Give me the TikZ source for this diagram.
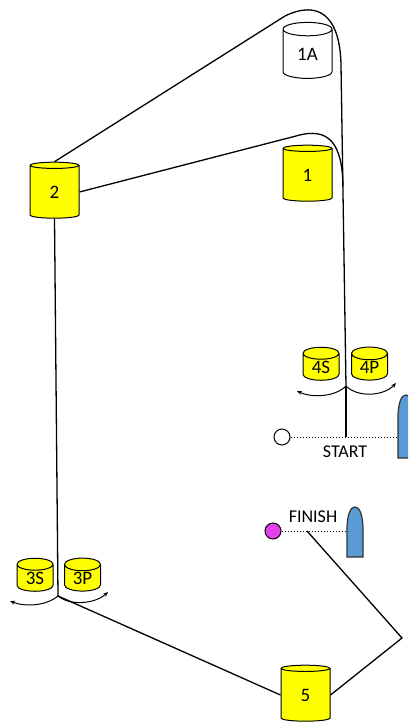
\documentclass[tikz,border=0pt]{standalone}
\usepackage{fontspec}
\setmainfont{Carlito}
\usetikzlibrary{arrows.meta, shapes.geometric}

\definecolor{drumyellow}{RGB}{255,255,0}
\definecolor{boatblue}{RGB}{91,155,213}
\definecolor{finishpink}{RGB}{228,64,235}

\newcommand{\dlabel}[1]{\raisebox{-5pt}{#1}}
\newcommand{\slabel}[1]{\raisebox{-3pt}{#1}}

\tikzset{
	drum/.style={cylinder, shape border rotate=90, draw=black, line width=1pt, fill=drumyellow,
		aspect=0.65, minimum width=49pt, minimum height=56pt, inner sep=0pt,
		font=\fontsize{19}{20}\selectfont},
	smalldrum/.style={drum, minimum width=36pt, minimum height=33pt},
	route/.style={line width=1.3pt},
	turn/.style={line width=1pt, -{Stealth[length=5pt,width=4pt]}},
	buoy/.style={circle, draw=black, line width=1pt, inner sep=0pt, minimum size=16pt},
	boat/.style={draw=black!80, line width=1.2pt, fill=boatblue},
}

\begin{document}
\begin{tikzpicture}[x=1pt, y=-1pt]
	\useasboundingbox (0,0) rectangle (408,722);
	\clip (0,0) rectangle (408,722);

	%drums
	\node[drum, fill=white] (d1A) at (307.5,54) {\dlabel{1A}};
	\node[drum] (d1) at (307.5,175) {\dlabel{1}};
	\node[drum] (d2) at (54.5,192) {\dlabel{2}};
	\node[smalldrum] (d4S) at (321,367) {\slabel{4S}};
	\node[smalldrum] (d4P) at (369.5,367) {\slabel{4P}};
	\node[smalldrum] (d3S) at (35,578) {\slabel{3S}};
	\node[smalldrum] (d3P) at (82.5,578) {\slabel{3P}};
	\node[drum] (d5) at (305.5,695) {\dlabel{5}};

	%start and finish
	\node[buoy, fill=white] (sBuoy) at (282,437) {};
	\node[buoy, fill=finishpink] (fBuoy) at (273,531) {};
	\coordinate (sBoat) at (398,437);
	\coordinate (fBoat) at (347,531);
	\coordinate (sJ) at (346,437);
	\coordinate (fJ) at (307,531);
	\node[font=\fontsize{18}{20}\selectfont] (start) at (345,452) {START};
	\node[font=\fontsize{18}{20}\selectfont] (finish) at (313,517) {FINISH};

	%boats
	\draw[boat] (398,458) -- (398,418) .. controls (398,401) and (402,395) .. (406,395)
		.. controls (410,395) and (414,401) .. (414,418) -- (414,458) -- cycle;
	\draw[boat] (347,557) -- (347,530) .. controls (347,513) and (351,507) .. (355,507)
		.. controls (359,507) and (363,513) .. (363,530) -- (363,557) -- cycle;

	%lines
	\draw[dotted, line width=1pt] (sBuoy) -- (sBoat);
	\draw[dotted, line width=1pt] (fBuoy) -- (fBoat);

	\coordinate (j4) at (346,386);
	\coordinate (j3) at (58,596);
	\coordinate (kR) at (402,638);

	\draw[route] (d2.north) -- (285,16) .. controls (318,0) and (340,15) .. (341,65) -- (j4);
	\draw[route] (d2.east) -- (296,136) .. controls (330,126) and (342,145) .. (343,185);
	\draw[route] (j4) -- (sJ);
	\draw[route] (d2.south) -- (j3);
	\draw[route] (j3) -- (d5.west);
	\draw[route] (fJ) -- (kR) -- (d5.east);

	%turn arrows
	\draw[turn] (j4) .. controls (335,397) and (312,398) .. (297,391);
	\draw[turn] (j4) .. controls (358,398) and (384,396) .. (396,383);
	\draw[turn] (j3) .. controls (46,606) and (25,607) .. (10,601);
	\draw[turn] (j3) .. controls (70,606) and (95,604) .. (108,592);
\end{tikzpicture}
\end{document}
